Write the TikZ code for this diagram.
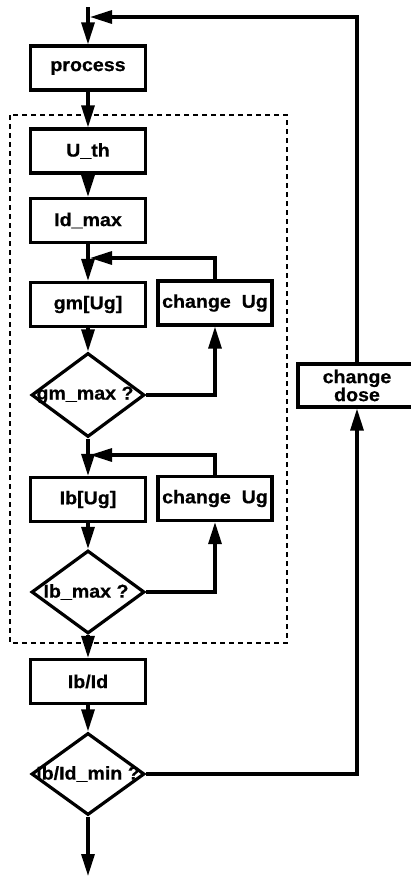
\documentclass[tikz,border=0pt]{standalone}
\usepackage{fontspec}
\setmainfont{Liberation Sans}[BoldFeatures={FakeStretch=1.06,FakeBold=0.6}]
\usetikzlibrary{arrows.meta,shapes.geometric}

\begin{document}
\begin{tikzpicture}[x=1pt,y=-1pt,
  every node/.style={font=\bfseries\fontsize{18.5}{18}\selectfont},
  stepbox/.style={draw, rectangle, line width=3.2pt, minimum width=115pt,
    minimum height=44pt, inner sep=0pt},
  decision/.style={draw, diamond, line width=3.2pt, minimum width=113pt,
    minimum height=84pt, inner sep=0pt},
  flow/.style={line width=3.2pt, line join=miter,
    -{Triangle[length=22pt,width=13pt]}},
  group/.style={draw, line width=2.3pt, dash pattern=on 5pt off 4pt}
]
\useasboundingbox (0,0) rectangle (411,876);

% main column
\node[stepbox] (process) at (88,68) {process};
\node[stepbox] (uth)     at (88,151) {U\_th};
\node[stepbox] (idmax)   at (88,220.5) {Id\_max};
\node[stepbox] (gm)      at (88,304.5) {gm[Ug]};
\node[stepbox, minimum width=114pt] (chgA) at (215,303) {change\ \ Ug};
\node[decision, label={[name=gmq, xshift=-3pt]center:gm\_max ?}] (gmmax) at (88,395) {};
\node[stepbox] (ib)      at (88,499.5) {Ib[Ug]};
\node[stepbox, minimum width=114pt] (chgB) at (215,498.5) {change\ \ Ug};
\node[decision, minimum height=83pt, label={[name=ibq, xshift=-2pt]center:Ib\_max ?}] (ibmax) at (88,592) {};
\node[stepbox] (ibid)    at (88,681.5) {Ib/Id};
\node[decision, minimum height=82pt, label={[name=ibidq]center:Ib/Id\_min ?}] (ibidmin) at (88,774) {};
\node[stepbox, minimum width=118pt, minimum height=43pt, align=center] (dose) at (357,385.5) {change\\dose};

% dashed frame around the optimisation block
\draw[group] (10,115) rectangle (287,643);

% entry, junctions and exit
\coordinate (start) at (88,7);
\coordinate (topjoin) at (90,17);
\coordinate (joinA) at (90,258);
\coordinate (joinB) at (90,455);
\coordinate (stop) at (88,876);

% connectors
\draw[flow] (start) -- (process);
\draw[flow] (process) -- (uth);
\draw[flow] (uth) -- (idmax);
\draw[flow] (idmax) -- (gm);
\draw[flow] (gm) -- (gmmax);
\draw[flow] (gmmax.east) -| (chgA.south);
\draw[flow] (chgA.north) |- (joinA);
\draw[flow] (gmmax) -- (ib);
\draw[flow] (ib) -- (ibmax);
\draw[flow] (ibmax.east) -| (chgB.south);
\draw[flow] (chgB.north) |- (joinB);
\draw[flow] (ibmax) -- (ibid);
\draw[flow] (ibid) -- (ibidmin);
\draw[flow] (ibidmin.east) -| (dose.south);
\draw[flow] (dose.north) |- (topjoin);
\draw[flow] (ibidmin) -- (stop);
\end{tikzpicture}
\end{document}
